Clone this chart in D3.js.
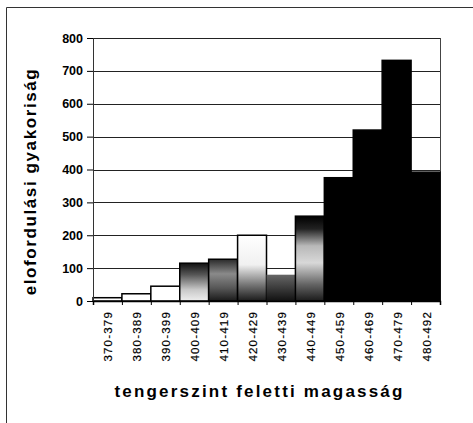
<!DOCTYPE html>
<html>
<head>
<meta charset="utf-8">
<script src="https://cdn.jsdelivr.net/npm/d3@7"></script>
<style>
  body { margin: 0; background: #fff; }
  svg { display: block; }
  text { font-family: Arial, "Liberation Sans", sans-serif; fill: #000; }
</style>
</head>
<body>
<div id="chart"></div>
<script>
// height classes (m a.s.l.) and how often each occurs
var categories = ['370-379', '380-389', '390-399', '400-409', '410-419', '420-429',
                  '430-439', '440-449', '450-459', '460-469', '470-479', '480-492'];
var counts = [10, 22, 45, 115, 127, 200, 80, 258, 375, 520, 732, 392];
var yTicks = [0, 100, 200, 300, 400, 500, 600, 700, 800];

var yTitle = 'elofordulási gyakoriság';
var xTitle = 'tengerszint feletti magasság';

// shading of each bar, top -> bottom (scan looks like a smeared gradient)
var shades = [
  [[0, '#fff'], [1, '#fff']],
  [[0, '#fff'], [1, '#fff']],
  [[0, '#fff'], [1, '#fff']],
  [[0, '#111'], [0.3, '#555'], [0.7, '#c8c8c8'], [1, '#eee']],
  [[0, '#2a2a2a'], [0.35, '#8a8a8a'], [0.7, '#555'], [1, '#1a1a1a']],
  [[0, '#fff'], [0.45, '#f0f0f0'], [0.75, '#777'], [1, '#1a1a1a']],
  [[0, '#666'], [1, '#111']],
  [[0, '#000'], [0.15, '#222'], [0.35, '#b8b8b8'], [0.55, '#d8d8d8'], [0.8, '#666'], [1, '#1a1a1a']],
  [[0, '#000'], [1, '#000']],
  [[0, '#000'], [1, '#000']],
  [[0, '#000'], [1, '#000']],
  [[0, '#000'], [1, '#000']]
];
// the 430-439 bar shows no outline in the scan
var outlined = [1, 1, 1, 1, 1, 1, 0, 1, 1, 1, 1, 1];

var width = 473, height = 423;
var margin = { top: 38, right: 33, bottom: 122, left: 93 };
var plotW = width - margin.left - margin.right;
var plotH = height - margin.top - margin.bottom;

var svg = d3.select('#chart').append('svg')
  .attr('width', width)
  .attr('height', height);

// outer frame (only left and top edges survive in the scan)
svg.append('path')
  .attr('d', 'M6.5,' + height + 'V7.5H' + width)
  .attr('fill', 'none')
  .attr('stroke', '#333')
  .attr('stroke-width', 1);

var defs = svg.append('defs');
shades.forEach(function(stops, i) {
  var grad = defs.append('linearGradient')
    .attr('id', 'shade' + i)
    .attr('x1', 0).attr('y1', 0)
    .attr('x2', 0).attr('y2', 1);
  stops.forEach(function(s) {
    grad.append('stop').attr('offset', s[0]).attr('stop-color', s[1]);
  });
});

var g = svg.append('g')
  .attr('transform', 'translate(' + margin.left + ',' + margin.top + ')');

var x = d3.scaleBand()
  .domain(categories)
  .range([0, plotW])
  .padding(0);

var y = d3.scaleLinear()
  .domain([0, 800])
  .range([plotH, 0]);

// gridlines
g.selectAll('line.grid')
  .data(yTicks)
  .enter()
  .append('line')
  .attr('class', 'grid')
  .attr('x1', 0)
  .attr('x2', plotW)
  .attr('y1', function(d) { return Math.round(y(d)) + 0.5; })
  .attr('y2', function(d) { return Math.round(y(d)) + 0.5; })
  .attr('stroke', '#222')
  .attr('stroke-width', 1);

// right edge of plot area
g.append('line')
  .attr('x1', plotW + 0.5).attr('x2', plotW + 0.5)
  .attr('y1', 0).attr('y2', plotH)
  .attr('stroke', '#444');

// bars
g.selectAll('rect.bar')
  .data(counts)
  .enter()
  .append('rect')
  .attr('class', 'bar')
  .attr('x', function(d, i) { return x(categories[i]); })
  .attr('y', function(d) { return y(d); })
  .attr('width', x.bandwidth())
  .attr('height', function(d) { return plotH - y(d); })
  .attr('fill', function(d, i) { return 'url(#shade' + i + ')'; })
  .attr('stroke', function(d, i) { return outlined[i] ? '#000' : 'none'; })
  .attr('stroke-width', 1.5);

// y axis
var yAxis = g.append('g')
  .call(d3.axisLeft(y).tickValues(yTicks).tickSize(6).tickPadding(4));
yAxis.select('.domain').attr('stroke', '#333');
yAxis.selectAll('text')
  .style('font-size', '12.5px')
  .style('font-weight', 'bold');

// x axis: ticks on category boundaries
var xEdges = d3.scaleLinear().domain([0, categories.length]).range([0, plotW]);
g.append('g')
  .attr('transform', 'translate(0,' + plotH + ')')
  .call(d3.axisBottom(xEdges)
    .tickValues(d3.range(categories.length + 1))
    .tickSize(4)
    .tickFormat(''))
  .select('.domain').attr('stroke', '#000').attr('stroke-width', 1.5);

// x labels rotated
g.selectAll('text.xlab')
  .data(categories)
  .enter()
  .append('text')
  .attr('class', 'xlab')
  .attr('transform', function(d) {
    return 'translate(' + (x(d) + x.bandwidth() / 2 + 1) + ',' + (plotH + 10) + ') rotate(-90)';
  })
  .attr('text-anchor', 'end')
  .attr('dy', '0.35em')
  .style('font-size', '11.5px')
  .style('letter-spacing', '1.2px')
  .style('stroke', '#000')
  .style('stroke-width', '0.2px')
  .text(function(d) { return d; });

// axis titles
svg.append('text')
  .attr('transform', 'translate(36,' + (margin.top + plotH / 2 + 12) + ') rotate(-90)')
  .attr('text-anchor', 'middle')
  .style('font-size', '17px')
  .style('font-weight', 'bold')
  .style('letter-spacing', '1.6px')
  .text(yTitle);

svg.append('text')
  .attr('x', margin.left + plotW / 2 - 7)
  .attr('y', 397)
  .attr('text-anchor', 'middle')
  .style('font-size', '17px')
  .style('font-weight', 'bold')
  .style('letter-spacing', '2.2px')
  .text(xTitle);
</script>
</body>
</html>
